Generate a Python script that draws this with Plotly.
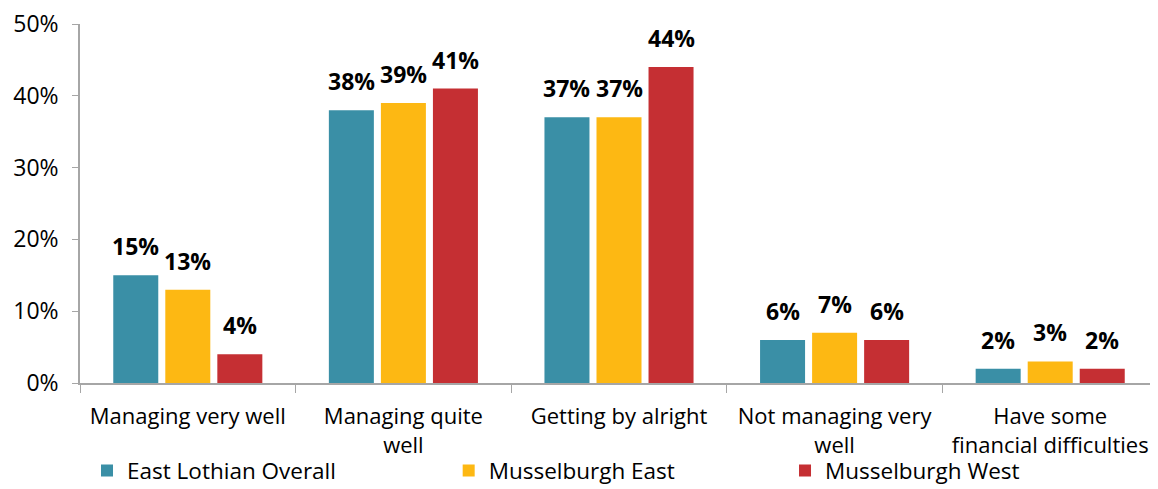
import plotly.graph_objects as go

categories = ["Managing very well", "Managing quite<br>well", "Getting by alright",
              "Not managing very<br>well", "Have some<br>financial difficulties"]
east_lothian = [15, 38, 37, 6, 2]
mus_east = [13, 39, 37, 7, 3]
mus_west = [4, 41, 44, 6, 2]
series_names = ["East Lothian Overall", "Musselburgh East", "Musselburgh West"]
colors = ["#3A8FA6", "#FDB813", "#C52F33"]
tick_vals = [0, 10, 20, 30, 40, 50]
tick_text = ["0%", "10%", "20%", "30%", "40%", "50%"]

FONT = "Open Sans"
FS = 23
# page body has an 8px default margin: size the figure to fit the window
W, H = 1150, 481
ML, MR, MT, MB = 72, 0, 16, 106
BARGAP, GROUPGAP = 0.276, 0.135
legend_names = ["legend", "legend2", "legend3"]
legend_x = [0.0065, 0.342, 0.654]

fig = go.Figure()
all_series = [east_lothian, mus_east, mus_west]
for name, vals, col, lg in zip(series_names, all_series, colors, legend_names):
    fig.add_trace(go.Bar(
        x=categories, y=vals, name=name, marker_color=col,
        marker_line_width=0, legend=lg,
    ))

# data labels as annotations above each bar (offset to each bar's slot)
cat_px = (W - ML - MR) / len(categories)
slot_px = cat_px * (1 - BARGAP) / len(all_series)
annotations = []
for si, vals in enumerate(all_series):
    off = (si - (len(all_series) - 1) / 2) * slot_px
    for c, v in zip(categories, vals):
        annotations.append(dict(
            x=c, y=v, xref="x", yref="y", text=f"<b>{v}%</b>", showarrow=False,
            xshift=off, yanchor="bottom", yshift=11,
            font=dict(family=FONT, size=FS, color="black"),
        ))

legend_common = dict(orientation="h", xanchor="left", y=-0.245, yanchor="middle",
                     font=dict(family=FONT, size=22.5), itemwidth=30,
                     bgcolor="rgba(0,0,0,0)")
fig.update_layout(
    width=W, height=H,
    margin=dict(l=ML, r=MR, t=MT, b=MB, autoexpand=False),
    plot_bgcolor="white", paper_bgcolor="white",
    barmode="group", bargap=BARGAP, bargroupgap=GROUPGAP,
    font=dict(family=FONT, size=FS, color="black"),
    showlegend=True,
    legend=dict(x=legend_x[0], **legend_common),
    legend2=dict(x=legend_x[1], **legend_common),
    legend3=dict(x=legend_x[2], **legend_common),
    annotations=annotations,
)
fig.update_xaxes(showline=True, linecolor="#A6A6A6", linewidth=1.5, automargin=False,
                 ticks="outside", tickson="boundaries", ticklen=8, tickcolor="#A6A6A6",
                 ticklabelstandoff=13, ticklabeloverflow="allow",
                 tickfont=dict(family=FONT, size=22))
fig.update_yaxes(range=[0, 50], tickvals=tick_vals, ticktext=tick_text, automargin=False,
                 showgrid=False, zeroline=False, showline=True, linecolor="#A6A6A6",
                 linewidth=1.5, ticks="outside", ticklen=6, tickcolor="#A6A6A6",
                 ticklabelstandoff=9, ticklabeloverflow="allow",
                 tickfont=dict(family=FONT, size=FS))

fig.write_html("out.html")
